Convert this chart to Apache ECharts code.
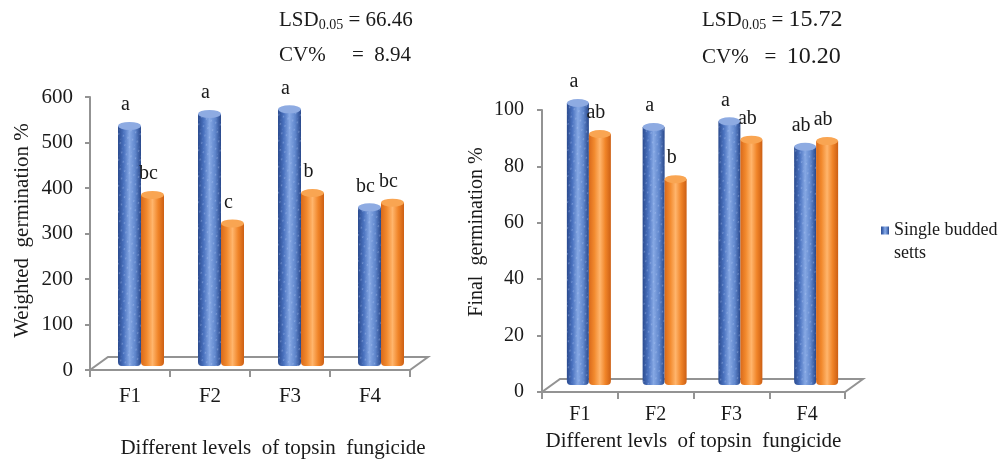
<!DOCTYPE html>
<html><head><meta charset="utf-8">
<script src="https://cdn.jsdelivr.net/npm/echarts@6/dist/echarts.min.js"></script>
<style>html,body{margin:0;padding:0;background:#fff}#c{width:1005px;height:464px}</style>
</head><body><div id="c"></div>
<script>
// ---------- data ----------
const categories = ['F1', 'F2', 'F3', 'F4'];
const seriesNames = ['Single budded setts', 'Double budded setts'];
const weightedSingle = [522, 548, 558, 345];
const weightedDouble = [372, 310, 376, 355];
const weightedSingleLetters = ['a', 'a', 'a', 'bc'];
const weightedDoubleLetters = ['bc', 'c', 'b', 'bc'];
const finalSingle = [100, 91.5, 93.5, 84.5];
const finalDouble = [89, 73, 87, 86.5];
const finalSingleLetters = ['a', 'a', 'a', 'ab'];
const finalDoubleLetters = ['ab', 'b', 'ab', 'ab'];
const weightedAxis = { min: 0, max: 600, interval: 100 };
const finalAxis = { min: 0, max: 100, interval: 20 };
const weightedStats = { lsd: '66.46', cv: '8.94' };
const finalStats = { lsd: '15.72', cv: '10.20' };
const xTitles = ['Different levels  of topsin  fungicide', 'Different levls  of topsin  fungicide'];
const yTitles = ['Weighted  germination %', 'Final  germination %'];

// ---------- styling ----------
const FONT = 'Liberation Serif';
const TXT = '#1a1a1a';
const AX = '#939393';
const DEPTH = [18, -13];

function grad(stops) {
  return new echarts.graphic.LinearGradient(0, 0, 1, 0, stops.map((c, i) => ({ offset: i / (stops.length - 1), color: c })));
}
const blueFill = grad(['#2a4a8e', '#4a72bf', '#86a8e4', '#5f86cc', '#28478a']);
const orangeFill = grad(['#d9691a', '#f28a2e', '#ffb56c', '#f08428', '#cc5f14']);
const blueDecal = { symbol: 'circle', symbolSize: 0.75, color: 'rgba(190,212,252,0.5)', dashArrayX: [[3, 2], [1, 4]], dashArrayY: [2, 2], rotation: 0.4 };

function makeChart(gi, axisCfg, single, dbl, sLet, dLet, rect, dx, barW, o) {
  const ax = gi * 2, bx = gi * 2 + 1;
  const grids = [
    { left: rect[0], top: rect[1], width: rect[2], height: rect[3] },
    { left: rect[0] + dx, top: rect[1] - 7, width: rect[2], height: rect[3] }
  ];
  const xAxes = [
    { type: 'category', gridIndex: ax, data: categories, boundaryGap: true,
      axisLine: { lineStyle: { color: AX, width: 2 } },
      axisTick: { show: true, length: 7, lineStyle: { color: AX, width: 2 } },
      axisLabel: { color: TXT, fontFamily: FONT, fontSize: o.tick, margin: o.xMargin },
      name: o.xTitle, nameLocation: 'middle', nameGap: o.xGap,
      nameTextStyle: { color: TXT, fontFamily: FONT, fontSize: 21, padding: o.xPad } },
    { type: 'category', gridIndex: bx, data: categories, show: false }
  ];
  const yAxes = [
    { type: 'value', gridIndex: ax, min: axisCfg.min, max: axisCfg.max, interval: axisCfg.interval,
      splitLine: { show: false },
      axisLine: { show: true, lineStyle: { color: AX, width: 2 } },
      axisTick: { show: true, length: 5, lineStyle: { color: AX, width: 2 } },
      axisLabel: { color: TXT, fontFamily: FONT, fontSize: o.tick, margin: o.yMargin },
      name: o.yTitle, nameLocation: 'middle', nameGap: o.yGap,
      nameTextStyle: { color: TXT, fontFamily: FONT, fontSize: o.yFont, padding: o.yPad } },
    { type: 'value', gridIndex: bx, min: axisCfg.min, max: axisCfg.max, interval: axisCfg.interval, show: false }
  ];
  const lab = (letters) => ({
    show: true, position: 'top', distance: 11, offset: [-4, 0],
    formatter: p => letters[p.dataIndex], color: TXT, fontFamily: FONT, fontSize: 20
  });
  const series = [
    { name: seriesNames[0], type: 'bar', xAxisIndex: bx, yAxisIndex: bx, data: single, barWidth: barW, barGap: '0%',
      itemStyle: { color: blueFill, decal: blueDecal, borderRadius: [0, 0, 4, 4] }, label: lab(sLet), z: 3 },
    { name: seriesNames[1], type: 'bar', xAxisIndex: bx, yAxisIndex: bx, data: dbl, barWidth: barW, barGap: '0%',
      itemStyle: { color: orangeFill, borderRadius: [0, 0, 4, 4] }, label: lab(dLet), z: 3 },
    { name: seriesNames[0] + ' top', type: 'pictorialBar', xAxisIndex: bx, yAxisIndex: bx, data: single, barWidth: barW, barGap: '0%',
      symbol: 'circle', symbolSize: [barW, 8], symbolPosition: 'end', symbolOffset: [0, '-50%'],
      itemStyle: { color: '#8eabe2' }, z: 4, silent: true },
    { name: seriesNames[1] + ' top', type: 'pictorialBar', xAxisIndex: bx, yAxisIndex: bx, data: dbl, barWidth: barW, barGap: '0%',
      symbol: 'circle', symbolSize: [barW, 8], symbolPosition: 'end', symbolOffset: [0, '-50%'],
      itemStyle: { color: '#f9a552' }, z: 4, silent: true }
  ];
  return { grids, xAxes, yAxes, series };
}

const L = makeChart(0, weightedAxis, weightedSingle, weightedDouble, weightedSingleLetters, weightedDoubleLetters,
  [90, 97, 320, 276], 11, 23,
  { tick: 21, xMargin: 16, yMargin: 17, xTitle: xTitles[0], xGap: 68, xPad: [0, 0, 0, 46],
    yTitle: yTitles[0], yGap: 57, yFont: 21, yPad: [0, 0, 0, 6] });
const R = makeChart(1, finalAxis, finalSingle, finalDouble, finalSingleLetters, finalDoubleLetters,
  [542, 110, 303, 282], 9, 22,
  { tick: 20, xMargin: 13, yMargin: 18, xTitle: xTitles[1], xGap: 39, xPad: [0, 0, 0, 0],
    yTitle: yTitles[1], yGap: 55, yFont: 20, yPad: [0, 0, 0, 38] });

function statText(x, y, stats, cvGap, numSize) {
  return [
    { type: 'text', left: x, top: y, z: 10, style: {
      text: '{a|LSD}{s|0.05}{a| = }{n|' + stats.lsd + '}',
      rich: { a: { fontFamily: FONT, fontSize: 21, fill: TXT, lineHeight: 26 },
              n: { fontFamily: FONT, fontSize: numSize, fill: TXT, lineHeight: 26 },
              s: { fontFamily: FONT, fontSize: 14, fill: TXT, lineHeight: 26, padding: [10, 0, 0, 0] } } } },
    { type: 'text', left: x, top: y + 37, z: 10, style: {
      text: '{a|CV%' + cvGap + '=  }{n|' + stats.cv + '}',
      rich: { a: { fontFamily: FONT, fontSize: 21, fill: TXT, lineHeight: 26 },
              n: { fontFamily: FONT, fontSize: numSize, fill: TXT, lineHeight: 26 } } } }
  ];
}
const statGraphics = [...statText(279, 8, weightedStats, '     ', 21), ...statText(702, 8, finalStats, '   ', 24)];

const chart = echarts.init(document.getElementById('c'), null, { renderer: 'canvas' });
chart.setOption({
  animation: false,
  backgroundColor: '#fff',
  grid: [...L.grids, ...R.grids],
  xAxis: [...L.xAxes, ...R.xAxes],
  yAxis: [...L.yAxes, ...R.yAxes],
  series: [...L.series, ...R.series],
  legend: {
    data: [seriesNames[0]], left: 881, top: 196, orient: 'vertical', padding: 0,
    itemWidth: 8, itemHeight: 8, icon: 'rect', itemGap: 5,
    formatter: () => ' \nSingle budded\nsetts',
    textStyle: { color: TXT, fontFamily: FONT, fontSize: 18, lineHeight: 23 }
  },
  graphic: statGraphics
});

// 3D floor outline drawn from the axes' own pixel mapping
function floor(gridIdx) {
  const rect = chart.getModel().getComponent('grid', gridIdx).coordinateSystem.getRect();
  const y0 = chart.convertToPixel({ yAxisIndex: gridIdx }, 0);
  const x0 = rect.x, x1 = rect.x + rect.width;
  return { type: 'polygon', z: 1, silent: true,
    shape: { points: [[x0, y0], [x1, y0], [x1 + DEPTH[0], y0 + DEPTH[1]], [x0 + DEPTH[0], y0 + DEPTH[1]]] },
    style: { fill: '#fff', stroke: AX, lineWidth: 2 } };
}
chart.setOption({ graphic: [...statGraphics, floor(0), floor(2)] });
</script></body></html>
